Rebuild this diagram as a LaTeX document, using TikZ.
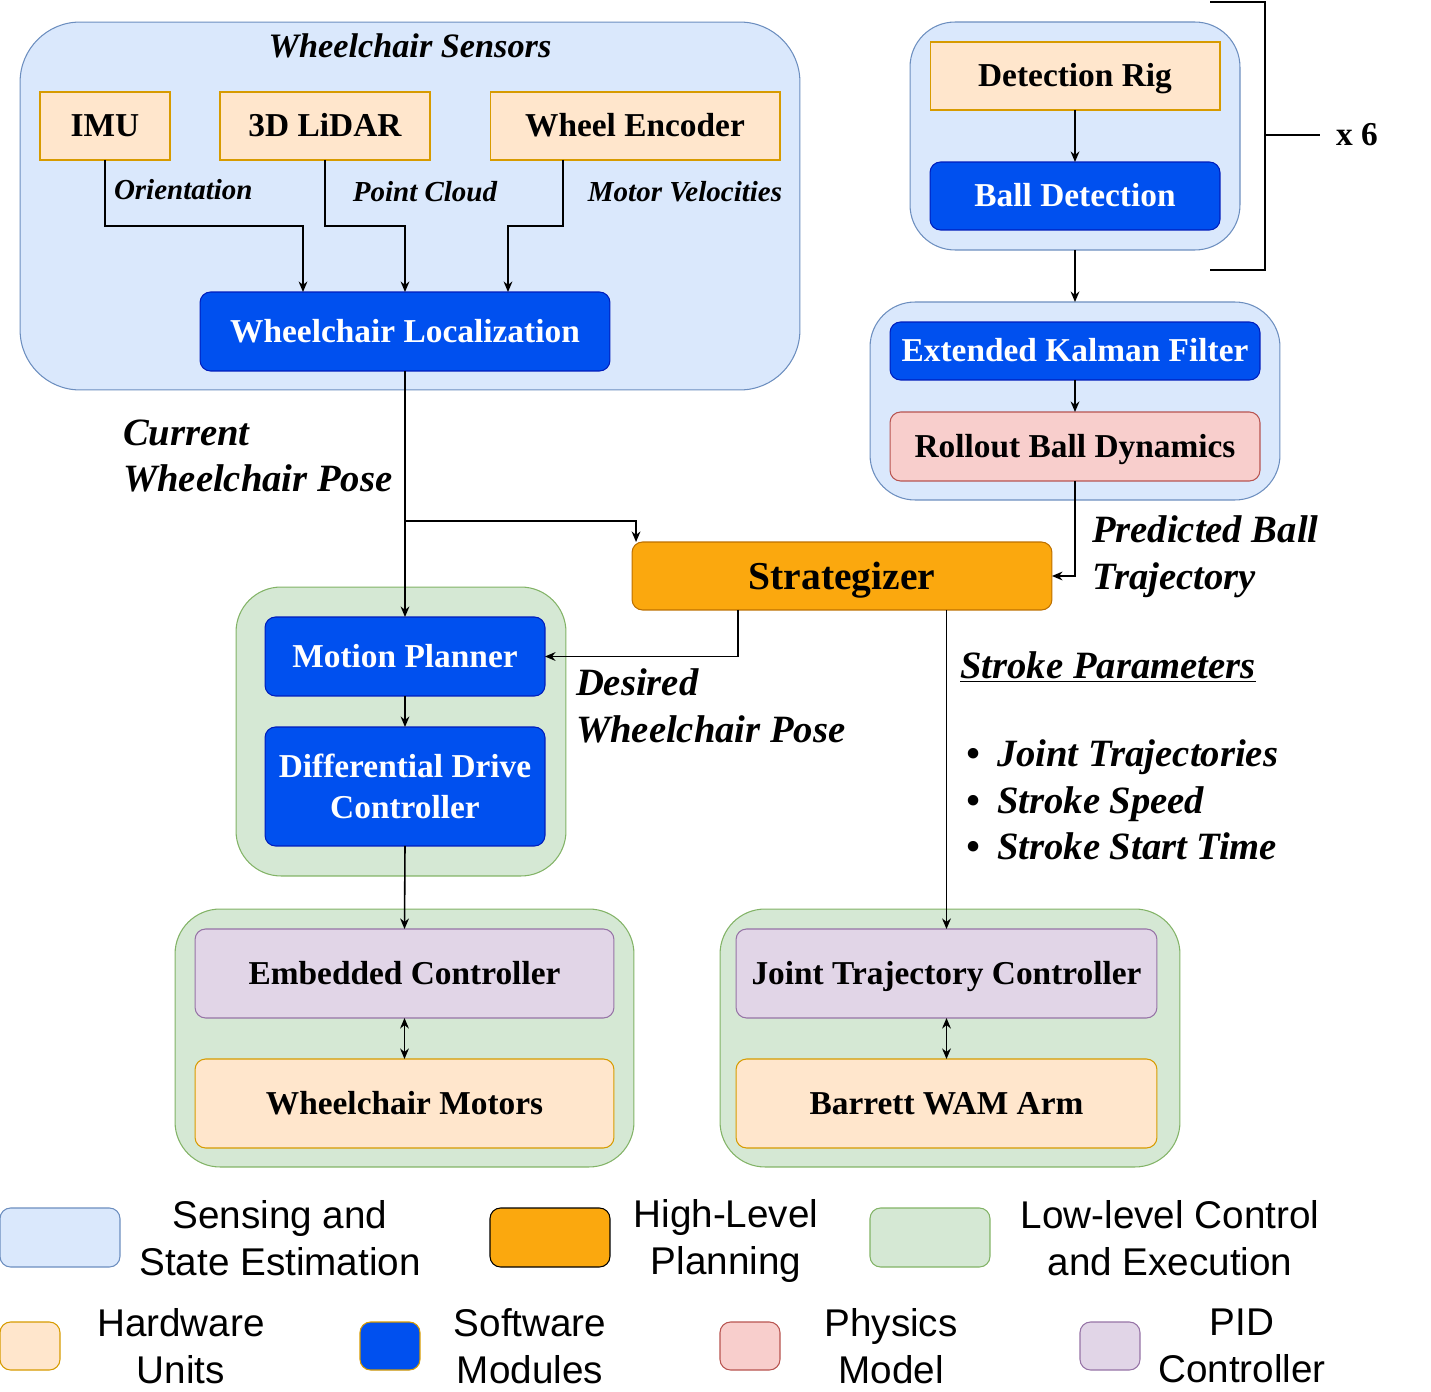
\documentclass[tikz,border=0pt]{standalone}
\usepackage{fontspec}
\setmainfont{Liberation Serif}
\setsansfont{Liberation Sans}
\usepackage{tikz}
\usetikzlibrary{arrows.meta,calc}

\definecolor{senseFill}{HTML}{DAE8FC}
\definecolor{senseLine}{HTML}{6C8EBF}
\definecolor{lowFill}{HTML}{D5E8D4}
\definecolor{lowLine}{HTML}{82B366}
\definecolor{hwFill}{HTML}{FFE6CC}
\definecolor{hwLine}{HTML}{D79B00}
\definecolor{swFill}{HTML}{0050EF}
\definecolor{swLine}{HTML}{001DBC}
\definecolor{planFill}{HTML}{FBA80E}
\definecolor{planLine}{HTML}{BD7000}
\definecolor{physFill}{HTML}{F8CECC}
\definecolor{physLine}{HTML}{B85450}
\definecolor{pidFill}{HTML}{E1D5E7}
\definecolor{pidLine}{HTML}{9673A6}

\begin{document}
\begin{tikzpicture}[%
        x=0.02cm, y=-0.02cm,
        >={Stealth[length=6pt,width=5pt]},
        every node/.style={inner sep=0pt, outer sep=0pt},
        link/.style={line width=0.9pt},
        group/.style={rectangle, rounded corners=#1, line width=0.6pt},
        sense/.style={group=#1, fill=senseFill, draw=senseLine},
        low/.style={group=#1, fill=lowFill, draw=lowLine},
        unit/.style={rectangle, line width=0.6pt, text centered, align=center,
            text height=12.5pt, text depth=0pt,
            font=\fontsize{19}{23}\selectfont\bfseries},
        hw/.style={unit, fill=hwFill, draw=hwLine},
        sw/.style={unit, rounded corners=6pt, fill=swFill, draw=swLine, text=white},
        phys/.style={unit, rounded corners=6pt, fill=physFill, draw=physLine},
        pid/.style={unit, rounded corners=6pt, fill=pidFill, draw=pidLine},
        lbl/.style={font=\fontsize{22}{26.6}\selectfont\bfseries\itshape, align=left},
        small/.style={font=\fontsize{16.5}{20}\selectfont\bfseries\itshape},
        key/.style={font=\fontsize{22}{26.6}\selectfont\sffamily, align=center}]
        \useasboundingbox (0,0) rectangle (1431,1392);

        % Containers
        \node [sense=1.2cm, minimum width=15.6cm, minimum height=7.36cm] (sensors) at (410,206) {};
        \node [sense=0.9cm, minimum width=6.6cm, minimum height=4.56cm] (rigbox) at (1075,136) {};
        \node [sense=0.9cm, minimum width=8.2cm, minimum height=3.96cm] (filterbox) at (1075,401) {};
        \node [low=0.9cm, minimum width=6.6cm, minimum height=5.78cm] (drivebox) at (401,731.5) {};
        \node [low=0.9cm, minimum width=9.18cm, minimum height=5.16cm] (basebox) at (404.5,1038) {};
        \node [low=0.9cm, minimum width=9.2cm, minimum height=5.16cm] (armbox) at (950,1038) {};

        % Nodes
        \node [font=\fontsize{19.5}{23}\selectfont\bfseries\itshape] (senstitle) at (410,46) {Wheelchair Sensors};
        \node [hw, minimum width=2.6cm, minimum height=1.36cm] (imu) at (105,126) {IMU};
        \node [hw, minimum width=4.2cm, minimum height=1.36cm] (lidar) at (325,126) {3D LiDAR};
        \node [hw, minimum width=5.8cm, minimum height=1.36cm] (encoder) at (635,126) {Wheel Encoder};
        \node [sw, minimum width=8.2cm, minimum height=1.58cm] (loc) at (405,331.5) {Wheelchair Localization};

        \node [hw, minimum width=5.8cm, minimum height=1.36cm] (rig) at (1075,76) {Detection Rig};
        \node [sw, minimum width=5.8cm, minimum height=1.36cm] (balldet) at (1075,196) {Ball Detection};
        \node [sw, minimum width=7.4cm, minimum height=1.16cm] (ekf) at (1075,351) {Extended Kalman Filter};
        \node [phys, minimum width=7.4cm, minimum height=1.38cm] (rollout) at (1075,446.5) {Rollout Ball Dynamics};

        \node [unit, rounded corners=6pt, fill=planFill, draw=planLine, minimum width=8.4cm, minimum height=1.36cm,
            text height=14.9pt, font=\fontsize{22.5}{26}\selectfont\bfseries] (strat) at (842,576) {Strategizer};

        \node [sw, minimum width=5.6cm, minimum height=1.58cm] (planner) at (405,656.5) {Motion Planner};
        \node [sw, minimum width=5.6cm, minimum height=2.38cm, text height=, text depth=,
            font=\fontsize{19}{23.8}\selectfont\bfseries] (diffdrive) at (405,786.5) {Differential Drive\\Controller};

        \node [pid, minimum width=8.38cm, minimum height=1.78cm] (embedded) at (404.5,973.5) {Embedded Controller};
        \node [hw, rounded corners=6pt, minimum width=8.38cm, minimum height=1.78cm] (motors) at (404.5,1103.5) {Wheelchair Motors};
        \node [pid, minimum width=8.42cm, minimum height=1.78cm] (jtc) at (946.5,973.5) {Joint Trajectory Controller};
        \node [hw, rounded corners=6pt, minimum width=8.42cm, minimum height=1.78cm] (wam) at (946.5,1103.5) {Barrett WAM Arm};

        % Labels
        \node [small, anchor=west] (orient) at (114,190) {Orientation};
        \node [small] (cloud) at (425,192) {Point Cloud};
        \node [small] (velo) at (685,192) {Motor Velocities};
        \node [lbl, anchor=west] (curpose) at (123,456) {Current\\Wheelchair Pose};
        \node [lbl, anchor=west] (predtraj) at (1092,557) {Predicted Ball\\Trajectory};
        \node [lbl, anchor=west] (despose) at (576,706) {Desired\\Wheelchair Pose};
        \node [lbl] (stroke) at (1108,667) {\underline{Stroke Parameters}};
        \node [lbl, anchor=west, font=\fontsize{22}{26.4}\selectfont\bfseries\itshape] (strokelist) at (966,800)
            {\textbullet\hspace{10pt}Joint Trajectories\\\textbullet\hspace{10pt}Stroke Speed\\\textbullet\hspace{10pt}Stroke Start Time};
        \node [font=\fontsize{19}{23}\selectfont\bfseries] (times) at (1357,135) {x 6};

        % Bracket
        \draw [line width=0.9pt] (1210,2) -| (1265,270) -- (1210,270);
        \draw [line width=0.9pt] (1265,135) -- (1320,135);

        % Edges
        \draw [link, ->] (imu.south) -- ++(0,66) -| ($(loc.north)+(-102,0)$);
        \draw [link, ->] (lidar.south) -- ++(0,66) -| (loc.north);
        \draw [link, ->] ($(encoder.south)+(-72,0)$) -- ++(0,66) -| ($(loc.north)+(103,0)$);
        \draw [link, ->] (rig) -- (balldet);
        \draw [link, ->] (rigbox) -- (filterbox);
        \draw [link, ->] (ekf) -- (rollout);
        \draw [link, ->] (rollout.south) |- (strat.east);
        \draw [link, ->] (loc.south) -- (planner.north);
        \draw [link, ->] (loc.south) -- ++(0,150) -| ($(strat.north west)+(4,0)$);
        \draw [link, ->] ($(strat.south)+(-104,0)$) |- (planner.east);
        \draw [link, ->] (jtc.north |- strat.south) -- (jtc.north);
        \draw [link, ->] (planner) -- (diffdrive);
        \draw [link, ->] (diffdrive.south) -- (embedded.north);
        \draw [link, <->] (embedded) -- (motors);
        \draw [link, <->] (jtc) -- (wam);

        % Legend
        \node [sense=6pt, minimum width=2.4cm, minimum height=1.18cm] (keysense) at (60,1237.5) {};
        \node [key] (keysensetxt) at (280,1238) {Sensing and\\State Estimation};
        \node [group=6pt, fill=planFill, draw=black, minimum width=2.4cm, minimum height=1.18cm] (keyplan) at (550,1237.5) {};
        \node [key] (keyplantxt) at (726,1241) {High-Level\\Planning};
        \node [low=6pt, minimum width=2.4cm, minimum height=1.18cm] (keylow) at (930,1237.5) {};
        \node [key] (keylowtxt) at (1170,1238) {Low-level Control\\and Execution};

        \node [group=6pt, fill=hwFill, draw=hwLine, minimum width=1.2cm, minimum height=0.96cm] (keyhw) at (30,1346) {};
        \node [key] (keyhwtxt) at (181,1346) {Hardware\\Units};
        \node [group=6pt, fill=swFill, draw=hwLine, minimum width=1.2cm, minimum height=0.96cm] (keysw) at (390,1346) {};
        \node [key] (keyswtxt) at (530,1346) {Software\\Modules};
        \node [group=6pt, fill=physFill, draw=physLine, minimum width=1.2cm, minimum height=0.96cm] (keyphys) at (750,1346) {};
        \node [key] (keyphystxt) at (891,1346) {Physics\\Model};
        \node [group=6pt, fill=pidFill, draw=pidLine, minimum width=1.2cm, minimum height=0.96cm] (keypid) at (1110,1346) {};
        \node [key] (keypidtxt) at (1242,1346) {PID\\Controller};
    \end{tikzpicture}
\end{document}
